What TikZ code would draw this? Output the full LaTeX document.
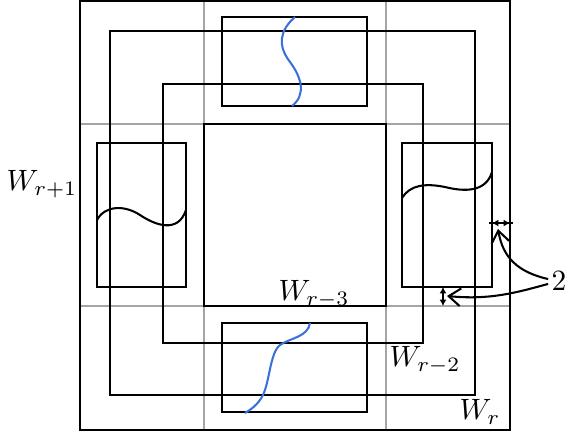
\documentclass[tikz,border=0pt]{standalone}
\usepackage{tikz}
\usetikzlibrary{arrows.meta,calc}
\definecolor{clrPath}{RGB}{58,112,218}
\definecolor{clrGrid}{RGB}{165,165,165}
\tikzset{
  frame/.style={line width=0.7pt,black},
  gridline/.style={line width=0.7pt,color=clrGrid},
  cell/.style={line width=0.7pt,black},
  route/.style={line width=0.7pt,color=clrPath},
  cut/.style={line width=0.7pt,black},
  gap/.style={{Latex[length=2.2pt,width=2.4pt]}-{Latex[length=2.2pt,width=2.4pt]},thin},
  pointer/.style={-{Straight Barb[length=4pt,width=6pt]},line width=0.7pt},
  lbl/.style={inner sep=1pt}
}
\begin{document}
\begin{tikzpicture}[x=0.34pt,y=-0.34pt]
  \useasboundingbox (0,0) rectangle (568,435);
  % grid of the window
  \foreach \g in {204,386} \draw[gridline] (\g,0) -- (\g,430);
  \foreach \g in {124,306} \draw[gridline] (80,\g) -- (510,\g);
  % nested squares
  \draw[frame] (80,1) rectangle (510,430);
  \draw[frame] (110,31) rectangle (475,395);
  \draw[frame] (163,84) rectangle (423,343);
  \draw[frame] (204,124) rectangle (386,306);
  % the four boxes
  \draw[cell] (222,17) rectangle (367,106);
  \draw[cell] (222,323) rectangle (367,412);
  \draw[cell] (97,143) rectangle (186,287);
  \draw[cell] (402,143) rectangle (492,287);
  % paths through the boxes
  \draw[route] (295,17) .. controls (280,30) and (277,45) .. (290,62)
    .. controls (302,78) and (306,95) .. (292,106);
  \draw[route] (310,323) .. controls (308,337) and (290,338) .. (280,345)
    .. controls (270,353) and (270,380) .. (263,395)
    .. controls (258,405) and (250,410) .. (245,413);
  \draw[cut] (97,220) .. controls (105,205) and (125,205) .. (140,215)
    .. controls (155,225) and (178,234) .. (186,210);
  \draw[cut] (402,198) .. controls (410,185) and (425,183) .. (445,187)
    .. controls (465,192) and (486,192) .. (492,172);
  % gaps
  \coordinate (ga) at (492,223);
  \coordinate (gb) at (510,223);
  \coordinate (gc) at (443,287);
  \coordinate (gd) at (443,306);
  \coordinate (gm) at (498,229);
  \coordinate (gn) at (447,296);
  \draw[thin] ($(ga)+(-3,0)$) -- ($(gb)+(3,0)$);
  \draw[gap] (ga) -- (gb);
  \draw[gap] (gc) -- (gd);
  % labels
  \node[lbl] (wrone) at (42,184) {$W_{r+1}$};
  \node[lbl] (wr) at (480,412) {$W_r$};
  \node[lbl] (wrtwo) at (425,360) {$W_{r-2}$};
  \node[lbl] (wrthree) at (314,294) {$W_{r-3}$};
  \node[lbl] (two) at (559,281) {$2$};
  \draw[pointer] (two.170) .. controls (518,272) and (503,258) .. (gm);
  \draw[pointer] (two.195) .. controls (515,293) and (490,300) .. (gn);
\end{tikzpicture}
\end{document}
